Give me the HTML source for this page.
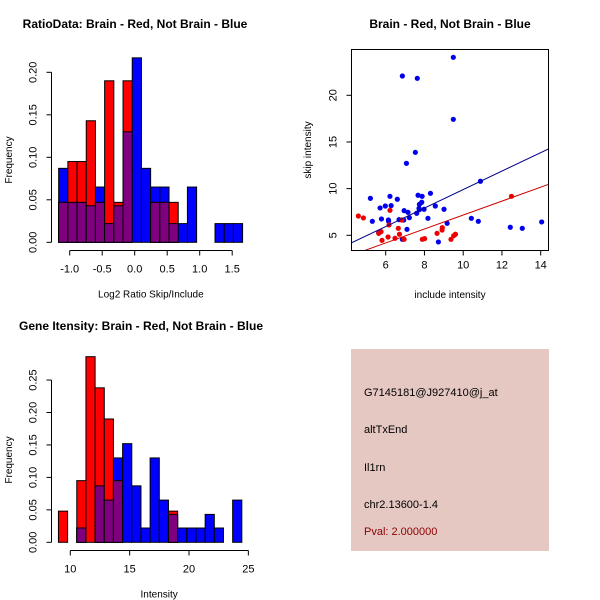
<!DOCTYPE html>
<html><head><meta charset="utf-8"><style>
body{margin:0;background:#fff;}
svg{display:block;font-family:"Liberation Sans",sans-serif;}
</style></head><body>
<svg id="c" width="600" height="600" xmlns="http://www.w3.org/2000/svg">
<rect x="351" y="349" width="198" height="202" fill="#e5c8c2"/>
<text x="364" y="396" font-size="11" fill="#000">G7145181@J927410@j_at</text>
<text x="364" y="433" font-size="11" fill="#000">altTxEnd</text>
<text x="364" y="471" font-size="11" fill="#000">Il1rn</text>
<text x="364" y="508" font-size="11" fill="#000">chr2.13600-1.4</text>
<text x="364" y="535" font-size="11" fill="#8b0000">Pval: 2.000000</text>
</svg>
<script>
// ---- Ratio histogram data ----
const ratioStart = -1.17, ratioWidth = 0.1415;
const ratioRed  = [0.047,0.095,0.095,0.143,0.047,0.19,0.047,0.19,0,0,0.047,0.047,0.047,0,0,0,0,0,0,0];
const ratioBlue = [0.087,0.047,0.047,0.043,0.065,0.022,0.043,0.13,0.217,0.087,0.065,0.065,0.022,0.022,0.065,0,0,0.022,0.022,0.022];
const ratioXTicks = [-1.0,-0.5,0.0,0.5,1.0,1.5];
const ratioXLabels = ["-1.0","-0.5","0.0","0.5","1.0","1.5"];
const ratioYTicks = [0,0.05,0.10,0.15,0.20];
const ratioYLabels = ["0.00","0.05","0.10","0.15","0.20"];
// ---- Intensity histogram data ----
const intStart = 9.0, intWidth = 0.7725;
const intRed  = [0.048,0,0.095,0.286,0.238,0.19,0.095,0,0,0,0,0,0.048,0,0,0,0,0,0,0];
const intBlue = [0,0,0.022,0,0.087,0.065,0.13,0.152,0.087,0.022,0.13,0.065,0.043,0.022,0.022,0.022,0.043,0.022,0,0.065];
const intXTicks = [10,15,20,25];
const intXLabels = ["10","15","20","25"];
const intYTicks = [0,0.05,0.10,0.15,0.20,0.25];
const intYLabels = ["0.00","0.05","0.10","0.15","0.20","0.25"];
// ---- Scatter data ----
const blueX = [9.49,6.86,7.63,9.49,7.53,7.07,10.89,5.21,6.22,6.60,7.67,7.88,8.31,5.71,5.98,6.28,6.95,7.15,7.74,7.86,8.56,9.01,7.74,7.98,8.18,7.22,5.31,5.78,6.14,6.69,6.15,6.93,7.10,6.86,8.72,9.17,10.42,10.78,12.43,13.05,14.05,5.64,7.72,7.6];
const blueY = [24.07,22.07,21.82,17.43,13.89,12.71,10.79,8.96,9.18,8.86,9.29,9.18,9.5,7.93,8.14,8.18,7.64,7.46,8.32,8.54,8.14,7.79,7.75,7.79,6.82,6.89,6.5,6.75,6.64,6.68,6.5,6.64,5.64,4.57,4.29,6.29,6.82,6.5,5.86,5.75,6.43,5.29,7.89,7.36];
const redX = [4.59,4.85,6.22,6.17,5.76,5.81,6.12,6.48,6.65,6.71,6.83,6.95,7.89,8.01,8.65,8.91,8.92,9.37,9.51,9.60,12.49,5.64];
const redY = [7.07,6.86,7.68,6.11,5.39,4.46,4.82,4.68,5.75,5.11,6.64,4.57,4.57,4.64,5.21,5.57,5.82,4.57,4.96,5.11,9.18,5.21];
const fitBlue = [0.0, 0.99];   // intercept, slope
const fitRed = [-0.30, 0.747];
const scXTicks = [6,8,10,12,14];
const scYTicks = [5,10,15,20];

const NS = "http://www.w3.org/2000/svg";
const svg = document.getElementById('c');
function mk(tag, attrs, parent){
  const e = document.createElementNS(NS, tag);
  for (const k in attrs) e.setAttribute(k, attrs[k]);
  (parent||svg).appendChild(e);
  return e;
}
function txt(x,y,s,size,opts){
  const t = mk('text',{x:x,y:y,'font-size':size,'text-anchor':(opts&&opts.anchor)||'middle','fill':'#000'});
  if (opts && opts.rot) t.setAttribute('transform','rotate(-90 '+x+' '+y+')');
  if (opts && opts.bold) t.setAttribute('font-weight','bold');
  t.textContent = s;
  return t;
}

function histogram(cfg){
  const sx = v => cfg.x0px + (v - cfg.x0v) * cfg.xs;
  const sy = v => cfg.y0px - v * cfg.ys;
  const g = mk('g',{});
  
  
  cfg.blue.forEach((b,i)=>{
    const r = cfg.red[i];
    const xl = sx(cfg.start + i*cfg.width), xr = sx(cfg.start + (i+1)*cfg.width);
    const mn = Math.min(r,b);
    const layers = [[b,'#0000ff','blue'],[r,'#ff0000','red'],[mn,'#7f007f','overlap']];
    layers.forEach(L=>{
      if (L[0] <= 0) return;
      const y = sy(L[0]);
      const rc = mk('rect',{x:xl,y:y,width:xr-xl,height:cfg.y0px-y,fill:L[1],stroke:'#000','stroke-width':1},g);
      
      
    });
  });
  const ya = mk('g',{});
  
  
  const yt0 = sy(cfg.yTicks[0]), yt1 = sy(cfg.yTicks[cfg.yTicks.length-1]);
  mk('line',{x1:cfg.axX,x2:cfg.axX,y1:yt0,y2:yt1,stroke:'#000'},ya);
  cfg.yTicks.forEach((v,i)=>{
    mk('line',{x1:cfg.axX-5,x2:cfg.axX,y1:sy(v),y2:sy(v),stroke:'#000'},ya);
    ya.appendChild(txt(cfg.axX-15, sy(v), cfg.yLabels[i], 11, {rot:true}));
  });
  const xa = mk('g',{});
  
  
  const xt0 = sx(cfg.xTicks[0]), xt1 = sx(cfg.xTicks[cfg.xTicks.length-1]);
  mk('line',{x1:xt0,x2:xt1,y1:cfg.axY,y2:cfg.axY,stroke:'#000'},xa);
  cfg.xTicks.forEach((v,i)=>{
    mk('line',{x1:sx(v),x2:sx(v),y1:cfg.axY,y2:cfg.axY+5,stroke:'#000'},xa);
    xa.appendChild(txt(sx(v), cfg.axY+22, cfg.xLabels[i], 11));
  });
  const xl = txt((cfg.x0px+cfg.xEnd)/2, cfg.axY+47, cfg.xTitle, 10);
   
  const yl = txt(12, cfg.yMid, 'Frequency', 10, {rot:true});
   
  const tt = txt(cfg.titleX, cfg.titleY, cfg.title, 12, {bold:true});
   
}

histogram({name:'ratio-histogram', start:ratioStart, width:ratioWidth, red:ratioRed, blue:ratioBlue,
  x0v:-1.0, x0px:69.7, xs:65, y0px:242.3, ys:850, axX:51.5, axY:250.5, xEnd:232,
  xTicks:ratioXTicks, xLabels:ratioXLabels, yTicks:ratioYTicks, yLabels:ratioYLabels,
  xTitle:'Log2 Ratio Skip/Include', yMid:160, title:'RatioData: Brain - Red, Not Brain - Blue', titleX:135, titleY:28});
histogram({name:'intensity-histogram', start:intStart, width:intWidth, red:intRed, blue:intBlue,
  x0v:10, x0px:70.3, xs:11.87, y0px:542.3, ys:649, axX:51.5, axY:550.5, xEnd:248,
  xTicks:intXTicks, xLabels:intXLabels, yTicks:intYTicks, yLabels:intYLabels,
  xTitle:'Intensity', yMid:460, title:'Gene Itensity: Brain - Red, Not Brain - Blue', titleX:141, titleY:330});

(function(){
  const L=351.5, R=548.5, T=49.5, B=250.5;
  const sx = v => 385.7 + (v-6)*19.375;
  const sy = v => 235.3 - (v-5)*9.333;
  const g = mk('g',{});
  
  
  mk('defs',{}).innerHTML = '<clipPath id="clp"><rect x="'+L+'" y="'+T+'" width="'+(R-L)+'" height="'+(B-T)+'"/></clipPath>';
  const pg = mk('g',{'clip-path':'url(#clp)'},g);
  blueX.forEach((x,i)=>{
    const c = mk('circle',{cx:sx(x),cy:sy(blueY[i]),r:2.6,fill:'#0000ee'},pg);
    
    
  });
  redX.forEach((x,i)=>{
    const c = mk('circle',{cx:sx(x),cy:sy(redY[i]),r:2.6,fill:'#ee0000'},pg);
    
    
  });
  const xa=4, xb=15;
  const lb = mk('line',{x1:sx(xa),y1:sy(fitBlue[0]+fitBlue[1]*xa),x2:sx(xb),y2:sy(fitBlue[0]+fitBlue[1]*xb),stroke:'#00008b','stroke-width':1},pg);
   
  const lr = mk('line',{x1:sx(xa),y1:sy(fitRed[0]+fitRed[1]*xa),x2:sx(xb),y2:sy(fitRed[0]+fitRed[1]*xb),stroke:'#cc0000','stroke-width':1},pg);
   
  const box = mk('rect',{x:L,y:T,width:R-L,height:B-T,fill:'none',stroke:'#000'},g);
   
  scXTicks.forEach(v=>{
    mk('line',{x1:sx(v),x2:sx(v),y1:B,y2:B+5,stroke:'#000'},g);
    g.appendChild(txt(sx(v),B+18,String(v),11));
  });
  scYTicks.forEach(v=>{
    mk('line',{x1:L-5,x2:L,y1:sy(v),y2:sy(v),stroke:'#000'},g);
    g.appendChild(txt(L-15,sy(v),String(v),11,{rot:true}));
  });
  const xt = txt(450,298,'include intensity',10);
   
  const yt = txt(311,150,'skip intensity',10,{rot:true});
   
  const tt = txt(450,28,'Brain - Red, Not Brain - Blue',12,{bold:true});
   
})();
</script>
</body></html>
